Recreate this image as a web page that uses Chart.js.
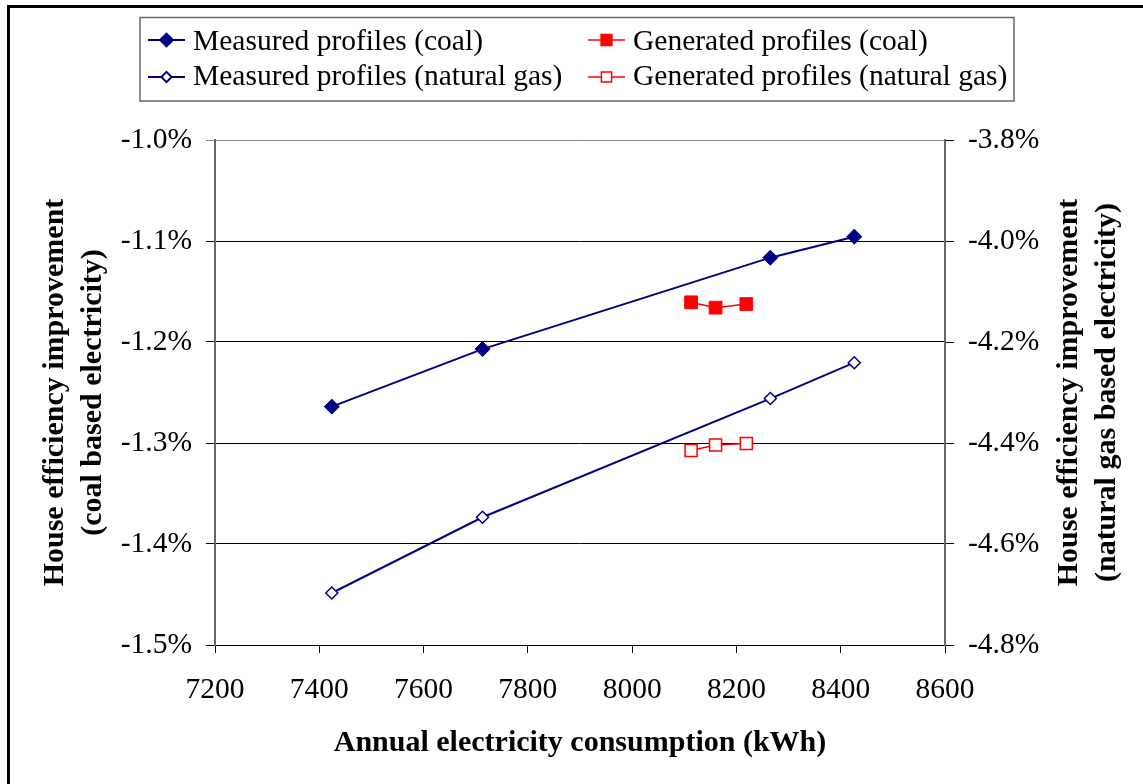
<!DOCTYPE html>
<html>
<head>
<meta charset="utf-8">
<script src="https://cdn.jsdelivr.net/npm/chart.js@4.4.1/dist/chart.umd.min.js"></script>
<style>
  body { margin: 0; background: #fff; }
  canvas { display: block; }
</style>
</head>
<body>
<canvas id="myChart" width="1143" height="784"></canvas>
<script>
// values
const consumptionMeasured = [7424, 7713, 8265, 8426];
const coalMeasured = [-1.264, -1.207, -1.1165, -1.0957];
const gasMeasured = [-4.697, -4.547, -4.312, -4.241];

const consumptionGenerated = [8113, 8160, 8219];
const coalGenerated = [-1.1607, -1.166, -1.1624];
const gasGenerated = [-4.415, -4.404, -4.401];

const xTicks = [7200, 8600, 200];
const coalTicks = [-1.5, -1.0, 0.1];
const gasTicks = [-4.8, -3.8, 0.2];

const seriesLabels = [
  "Measured profiles (coal)",
  "Generated profiles (coal)",
  "Measured profiles (natural gas)",
  "Generated profiles (natural gas)",
];

const toPoints = (xs, ys) => xs.map((x, i) => ({ x: x, y: ys[i] }));

const serif = '"Liberation Serif", "Times New Roman", serif';
const navy = "#000080";
const red = "#ff0000";

const datasets = [
  {
    label: seriesLabels[0],
    data: toPoints(consumptionMeasured, coalMeasured),
    yAxisID: "y",
    borderColor: navy,
    backgroundColor: navy,
    borderWidth: 2,
    pointStyle: "rectRot",
    pointRadius: 7.5,
    pointBorderWidth: 1,
  },
  {
    label: seriesLabels[1],
    data: toPoints(consumptionGenerated, coalGenerated),
    yAxisID: "y",
    borderColor: red,
    backgroundColor: red,
    borderWidth: 1.5,
    pointStyle: "rect",
    pointRadius: 9,
    pointBorderWidth: 1,
  },
  {
    label: seriesLabels[2],
    data: toPoints(consumptionMeasured, gasMeasured),
    yAxisID: "y2",
    borderColor: navy,
    backgroundColor: "#ffffff",
    borderWidth: 2,
    pointStyle: "rectRot",
    pointRadius: 6,
    pointBorderWidth: 1.5,
  },
  {
    label: seriesLabels[3],
    data: toPoints(consumptionGenerated, gasGenerated),
    yAxisID: "y2",
    borderColor: red,
    backgroundColor: "#ffffff",
    borderWidth: 1.5,
    pointStyle: "rect",
    pointRadius: 8.5,
    pointBorderWidth: 1.5,
  },
];

// frame, legend box and axis titles drawn on top of the chart
const decorations = {
  id: "decorations",
  afterDraw(chart) {
    const ctx = chart.ctx;
    ctx.save();

    // outer frame
    ctx.strokeStyle = "#000";
    ctx.lineWidth = 3;
    ctx.strokeRect(8.5, 6.5, 1200, 900);

    // legend box
    ctx.strokeStyle = "#666";
    ctx.lineWidth = 1.5;
    ctx.strokeRect(140, 17.5, 874, 83.5);

    const cols = [148, 588];
    const rows = [40, 77];
    const textBase = [50, 85];
    ctx.font = "29.5px " + serif;
    ctx.textBaseline = "alphabetic";
    ctx.textAlign = "left";
    chart.data.datasets.forEach((ds, i) => {
      const col = cols[i % 2];
      const row = Math.floor(i / 2);
      const y = rows[row];
      ctx.strokeStyle = ds.borderColor;
      ctx.lineWidth = ds.borderWidth;
      ctx.beginPath();
      ctx.moveTo(col, y);
      ctx.lineTo(col + 37, y);
      ctx.stroke();
      ctx.fillStyle = ds.backgroundColor;
      ctx.strokeStyle = ds.borderColor;
      Chart.helpers.drawPoint(ctx, {
        pointStyle: ds.pointStyle,
        radius: ds.pointRadius * 0.85,
        rotation: 0,
        borderWidth: ds.pointBorderWidth,
      }, col + 18.5, y);
      ctx.fillStyle = "#000";
      ctx.fillText(ds.label, col + 45, textBase[row]);
    });

    // axis titles
    ctx.fillStyle = "#000";
    ctx.font = "bold 30px " + serif;
    ctx.textAlign = "center";
    ctx.textBaseline = "alphabetic";
    const area = chart.chartArea;
    const midY = (area.top + area.bottom) / 2;
    const vTitle = (x, text) => {
      ctx.save();
      ctx.translate(x, midY);
      ctx.rotate(-Math.PI / 2);
      ctx.fillText(text, 0, 0);
      ctx.restore();
    };
    vTitle(63, "House efficiency improvement");
    vTitle(101, "(coal based electricity)");
    vTitle(1077, "House efficiency improvement");
    vTitle(1115, "(natural gas based electricity)");
    ctx.fillText("Annual electricity consumption (kWh)", (area.left + area.right) / 2, 751);

    ctx.restore();
  },
};

var ctx = document.getElementById("myChart");
var myChart = new Chart(ctx, {
  type: "scatter",
  data: { datasets: datasets },
  plugins: [decorations],
  options: {
    responsive: false,
    animation: false,
    devicePixelRatio: 1,
    showLine: true,
    layout: {
      padding: { top: 140, left: 0, right: 0, bottom: 0 },
    },
    plugins: {
      legend: { display: false },
      tooltip: { enabled: false },
    },
    scales: {
      x: {
        type: "linear",
        min: xTicks[0],
        max: xTicks[1],
        ticks: {
          stepSize: xTicks[2],
          color: "#000",
          padding: 20,
          maxRotation: 0,
          font: { family: serif, size: 29.5 },
          callback: (v) => String(v),
        },
        grid: {
          drawOnChartArea: false,
          drawTicks: true,
          tickLength: 8,
          color: "#000",
        },
        border: { display: true, color: "#000", width: 1 },
        afterFit: (scale) => { scale.height = 139; },
      },
      y: {
        position: "left",
        min: coalTicks[0],
        max: coalTicks[1],
        ticks: {
          stepSize: coalTicks[2],
          color: "#000",
          padding: 14,
          font: { family: serif, size: 29.5 },
          callback: (v) => v.toFixed(1) + "%",
        },
        grid: {
          color: (c) => (c.tick && Math.abs(c.tick.value - coalTicks[1]) < 1e-6 ? "#888" : "#000"),
          lineWidth: 1,
          tickLength: 9,
        },
        border: { display: true, color: "#666", width: 2 },
        afterFit: (scale) => { scale.width = 215; },
      },
      y2: {
        position: "right",
        min: gasTicks[0],
        max: gasTicks[1],
        ticks: {
          stepSize: gasTicks[2],
          color: "#000",
          padding: 14,
          font: { family: serif, size: 29.5 },
          callback: (v) => v.toFixed(1) + "%",
        },
        grid: {
          drawOnChartArea: false,
          drawTicks: true,
          tickLength: 9,
          color: "#000",
        },
        border: { display: true, color: "#666", width: 2 },
        afterFit: (scale) => { scale.width = 198; },
      },
    },
  },
});
</script>
</body>
</html>
